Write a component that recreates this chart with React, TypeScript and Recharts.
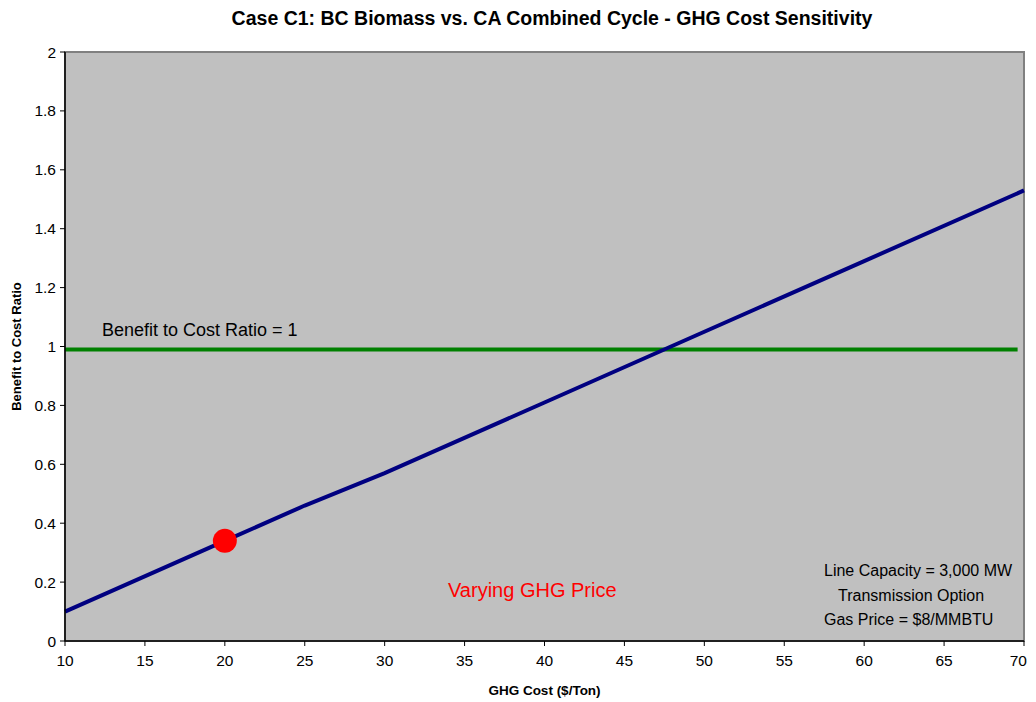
import * as React from 'react';
import { ComposedChart, Line, Scatter, CartesianGrid, XAxis, YAxis } from 'recharts';

const ghgCost = [10, 20, 25, 30, 40, 50, 60, 70];
const ratio = [0.1, 0.34, 0.46, 0.57, 0.81, 1.05, 1.29, 1.53];
const breakEvenX = [10, 69.6];
const breakEvenY = [0.99, 0.99];
const currentPoint = [{ x: 20, y: 0.34 }];
const xTicks = [10, 15, 20, 25, 30, 35, 40, 45, 50, 55, 60, 65, 70];
const yTicks = [0, 0.2, 0.4, 0.6, 0.8, 1, 1.2, 1.4, 1.6, 1.8, 2];

const font = 'Arial, "Liberation Sans", sans-serif';

// last x label would run past the picture edge, so it is pulled in a little
const XTick = (props: any) => {
    const last = props.payload.value === xTicks[xTicks.length - 1];
    return (
        <text x={last ? props.x + 3 : props.x} y={props.y} dy="0.71em" textAnchor={last ? 'end' : 'middle'}
            fill="#000" fontSize={15.5} fontFamily={font}>
            {props.payload.value}
        </text>
    );
};

const YTick = (props: any) => (
    <text x={props.x} y={props.y} dy="0.355em" textAnchor="end" fill="#000" fontSize={15.5} fontFamily={font}>
        {props.payload.value}
    </text>
);

const App = () => {
    const curve = ghgCost.map((x, i) => ({ x, y: ratio[i] }));
    const flat = breakEvenX.map((x, i) => ({ x, y: breakEvenY[i] }));
    const txt: React.CSSProperties = { position: 'absolute', fontFamily: font, whiteSpace: 'nowrap' };

    return (
        <div style={{ position: 'relative', width: 1020, height: 694, fontFamily: font }}>
            <div style={{ ...txt, left: 0, width: 1088, top: -1, textAlign: 'center', fontSize: 19.5, fontWeight: 'bold' }}>
                Case C1: BC Biomass vs. CA Combined Cycle - GHG Cost Sensitivity
            </div>
            <ComposedChart width={1020} height={694} margin={{ top: 44, right: 4, bottom: 1, left: 0 }}>
                <rect x={57} y={44} width={959} height={589} fill="#c0c0c0" stroke="#808080" strokeWidth={2} />
                <CartesianGrid horizontal vertical={false} stroke="#a0a0a0" strokeWidth={1.5} />
                <XAxis
                    type="number"
                    dataKey="x"
                    domain={[10, 70]}
                    ticks={xTicks}
                    interval={0}
                    tick={<XTick />}
                    tickLine={{ stroke: '#000' }}
                    axisLine={{ stroke: '#000', strokeWidth: 1.5 }}
                    tickSize={5}
                    tickMargin={9}
                    height={60}
                    label={{ value: 'GHG Cost ($/Ton)', position: 'insideBottom', offset: 6, fill: '#000', fontSize: 13.5, fontWeight: 'bold', fontFamily: font }}
                />
                <YAxis
                    type="number"
                    dataKey="y"
                    domain={[0, 2]}
                    ticks={yTicks}
                    interval={0}
                    width={57}
                    tick={<YTick />}
                    tickLine={{ stroke: '#000' }}
                    axisLine={{ stroke: '#000', strokeWidth: 1.5 }}
                    tickSize={5}
                    tickMargin={4}
                    label={{ value: 'Benefit to Cost Ratio', angle: -90, position: 'insideLeft', offset: 8, fill: '#000', fontSize: 13, fontWeight: 'bold', fontFamily: font, style: { textAnchor: 'middle' } }}
                />
                <Line data={flat} dataKey="y" type="linear" stroke="#008000" strokeWidth={4} dot={false} isAnimationActive={false} />
                <Line data={curve} dataKey="y" type="linear" stroke="#000080" strokeWidth={4} dot={false} isAnimationActive={false} />
                <Scatter data={currentPoint} fill="#ff0000" isAnimationActive={false}
                    shape={(p: any) => <circle cx={p.cx} cy={p.cy} r={12} fill="#ff0000" />} />
            </ComposedChart>
            <div style={{ ...txt, left: 94, top: 312, fontSize: 18 }}>Benefit to Cost Ratio = 1</div>
            <div style={{ ...txt, left: 440, top: 571, fontSize: 20, color: '#ff0000' }}>Varying GHG Price</div>
            <div style={{ ...txt, left: 816, top: 554, fontSize: 16 }}>Line Capacity = 3,000 MW</div>
            <div style={{ ...txt, left: 830, top: 579, fontSize: 16 }}>Transmission Option</div>
            <div style={{ ...txt, left: 816, top: 603, fontSize: 16 }}>Gas Price = $8/MMBTU</div>
        </div>
    );
};

export default App;
